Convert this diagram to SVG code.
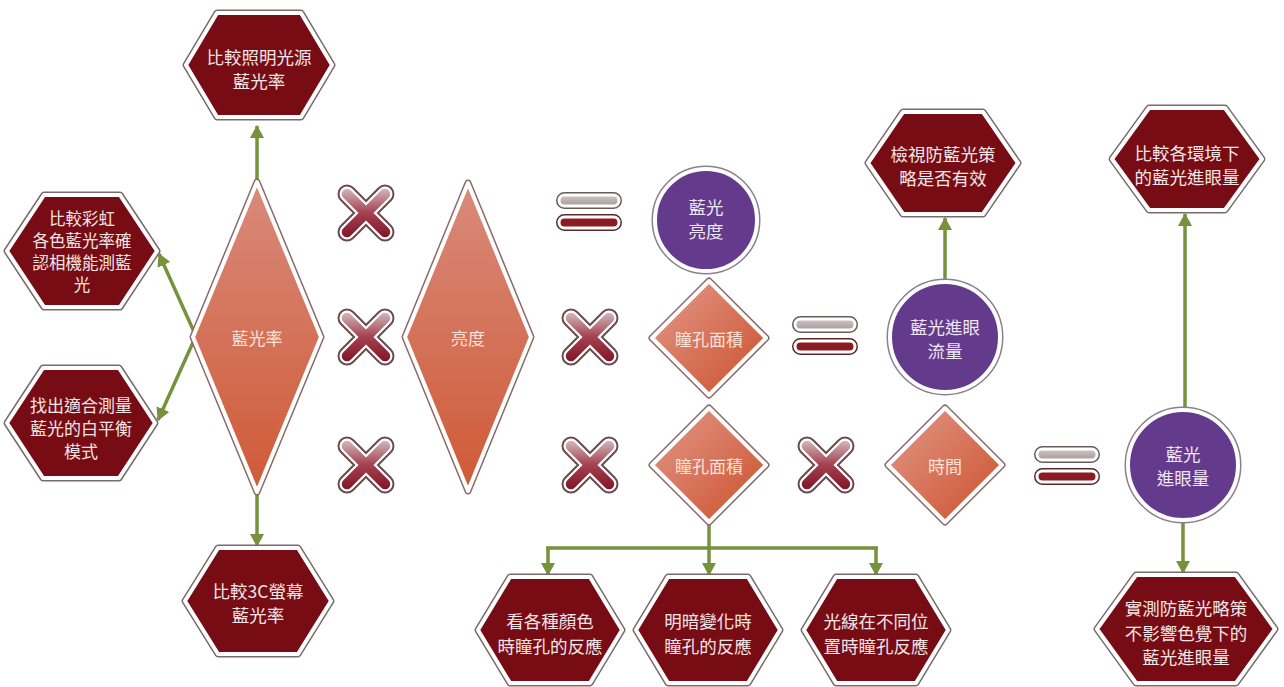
<svg xmlns="http://www.w3.org/2000/svg" xmlns:xlink="http://www.w3.org/1999/xlink" width="1284" height="687" viewBox="0 0 1284 687">
<defs>
<style>
.hexo{fill:none;stroke:#7a6a6a;stroke-width:7;stroke-linejoin:round}
.hexi{fill:#780c14;stroke:#ffffff;stroke-width:4;stroke-linejoin:round}
.dmo{fill:none;stroke:#8a6a66;stroke-width:7;stroke-linejoin:round}
.dmi{stroke:#ffffff;stroke-width:4;stroke-linejoin:round}
.cio{fill:none;stroke:#8a8090;stroke-width:7}
.cii{fill:#643a8c;stroke:#ffffff;stroke-width:4}
.t{font-family:"Noto Sans CJK TC","Noto Sans CJK SC",sans-serif;font-size:17.5px;text-anchor:middle;dominant-baseline:central}
.th{fill:#f3e6e6}
.td{fill:#fbe2d8;font-size:17px}
.tc{fill:#efe6f6}
.con{fill:none;stroke:#76923c;stroke-width:3.5}
.arr{marker-end:url(#ah)}
</style>
<linearGradient id="gBig" x1="0" y1="0" x2="0" y2="1">
<stop offset="0" stop-color="#d98a7c"/>
<stop offset="1" stop-color="#cf5a36"/>
</linearGradient>
<linearGradient id="gSm" x1="0" y1="0" x2="1" y2="1">
<stop offset="0" stop-color="#e2998a"/>
<stop offset="1" stop-color="#cc4f2a"/>
</linearGradient>
<linearGradient id="gX" gradientUnits="userSpaceOnUse" x1="0" y1="-27" x2="0" y2="27">
<stop offset="0" stop-color="#d6c4c4"/>
<stop offset="0.5" stop-color="#a44050"/>
<stop offset="1" stop-color="#7c1222"/>
</linearGradient>
<linearGradient id="gEq" x1="0" y1="0" x2="0" y2="1">
<stop offset="0" stop-color="#d2c6c6"/>
<stop offset="1" stop-color="#a89a9a"/>
</linearGradient>
<marker id="ah" markerUnits="userSpaceOnUse" markerWidth="16" markerHeight="16" refX="12" refY="7" orient="auto">
<path d="M0,0 L13,7 L0,14 z" fill="#76923c"/>
</marker>
<g id="xs">
<path d="M-19,-19 L19,19 M-19,19 L19,-19" stroke="#6a4a4e" stroke-width="19" stroke-linecap="round" fill="none"/>
<path d="M-19,-19 L19,19 M-19,19 L19,-19" stroke="#ffffff" stroke-width="15" stroke-linecap="round" fill="none"/>
<path d="M-19,-19 L19,19 M-19,19 L19,-19" stroke="url(#gX)" stroke-width="10.5" stroke-linecap="round" fill="none"/>
</g>
<g id="eq">
<rect x="-30" y="-17" width="60" height="11" rx="5.5" fill="url(#gEq)" stroke="#6a5a5a" stroke-width="6"/>
<rect x="-30" y="-17" width="60" height="11" rx="5.5" fill="url(#gEq)" stroke="#ffffff" stroke-width="3"/>
<rect x="-30" y="5" width="60" height="11" rx="5.5" fill="#8c1a22" stroke="#5a2a2a" stroke-width="6"/>
<rect x="-30" y="5" width="60" height="11" rx="5.5" fill="#8c1a22" stroke="#ffffff" stroke-width="3"/>
</g>
</defs>
<rect width="1284" height="687" fill="#ffffff"/>

<g id="connectors">
<line class="con arr" x1="257" y1="182" x2="257" y2="126"/>
<line class="con arr" x1="257" y1="493" x2="257" y2="546"/>
<line class="con arr" x1="195" y1="334" x2="159" y2="254"/>
<line class="con arr" x1="195" y1="338" x2="158" y2="420"/>
<line class="con arr" x1="945" y1="282" x2="945" y2="218"/>
<line class="con arr" x1="1185" y1="410" x2="1185" y2="214"/>
<line class="con arr" x1="1183" y1="520" x2="1183" y2="573"/>
<path class="con" d="M709,522 V548 M546,548 H878"/>
<line class="con arr" x1="548" y1="548" x2="548" y2="575"/>
<line class="con arr" x1="709" y1="548" x2="709" y2="575"/>
<line class="con arr" x1="876" y1="548" x2="876" y2="575"/>
</g>

<g id="hex-light-source">
<polygon class="hexo" points="186,65 217,13 301,13 332,65 301,117 217,117"/>
<polygon class="hexi" points="186,65 217,13 301,13 332,65 301,117 217,117"/>
<text class="t th" x="259" y="56">比較照明光源<tspan x="259" dy="24">藍光率</tspan></text>
</g>

<g id="hex-rainbow">
<polygon class="hexo" points="7,251 44,195 120,195 157,251 120,307 44,307"/>
<polygon class="hexi" points="7,251 44,195 120,195 157,251 120,307 44,307"/>
<text class="t th" style="font-size:16.5px" x="82" y="218">比較彩虹<tspan x="82" dy="22">各色藍光率確</tspan><tspan x="82" dy="22">認相機能測藍</tspan><tspan x="82" dy="22">光</tspan></text>
</g>

<g id="hex-white-balance">
<polygon class="hexo" points="7,423 43,368 119,368 155,423 119,478 43,478"/>
<polygon class="hexi" points="7,423 43,368 119,368 155,423 119,478 43,478"/>
<text class="t th" style="font-size:17px" x="81" y="404">找出適合測量<tspan x="81" dy="23">藍光的白平衡</tspan><tspan x="81" dy="23">模式</tspan></text>
</g>

<g id="hex-3c">
<polygon class="hexo" points="185,601 218,548 298,548 331,601 298,654 218,654"/>
<polygon class="hexi" points="185,601 218,548 298,548 331,601 298,654 218,654"/>
<text class="t th" x="258" y="590">比較3C螢幕<tspan x="258" dy="24">藍光率</tspan></text>
</g>

<g id="hex-strategy">
<polygon class="hexo" points="868,163 903,112 983,112 1018,163 983,214 903,214"/>
<polygon class="hexi" points="868,163 903,112 983,112 1018,163 983,214 903,214"/>
<text class="t th" x="943" y="153">檢視防藍光策<tspan x="943" dy="24">略是否有效</tspan></text>
</g>

<g id="hex-environment">
<polygon class="hexo" points="1112,159 1149,108 1225,108 1262,159 1225,210 1149,210"/>
<polygon class="hexi" points="1112,159 1149,108 1225,108 1262,159 1225,210 1149,210"/>
<text class="t th" x="1187" y="152">比較各環境下<tspan x="1187" dy="24">的藍光進眼量</tspan></text>
</g>

<g id="hex-measure">
<polygon class="hexo" points="1097,629 1136,575 1236,575 1275,629 1236,683 1136,683"/>
<polygon class="hexi" points="1097,629 1136,575 1236,575 1275,629 1236,683 1136,683"/>
<text class="t th" x="1186" y="607">實測防藍光略策<tspan x="1186" dy="24.5">不影響色覺下的</tspan><tspan x="1186" dy="24.5">藍光進眼量</tspan></text>
</g>

<g id="hex-colors">
<polygon class="hexo" points="478,630 510,577 590,577 622,630 590,683 510,683"/>
<polygon class="hexi" points="478,630 510,577 590,577 622,630 590,683 510,683"/>
<text class="t th" x="550" y="620">看各種顏色<tspan x="550" dy="25">時瞳孔的反應</tspan></text>
</g>

<g id="hex-brightness-change">
<polygon class="hexo" points="636,630 668,577 748,577 780,630 748,683 668,683"/>
<polygon class="hexi" points="636,630 668,577 748,577 780,630 748,683 668,683"/>
<text class="t th" x="708" y="620">明暗變化時<tspan x="708" dy="25">瞳孔的反應</tspan></text>
</g>

<g id="hex-position">
<polygon class="hexo" points="804,630 836,577 916,577 948,630 916,683 836,683"/>
<polygon class="hexi" points="804,630 836,577 916,577 948,630 916,683 836,683"/>
<text class="t th" x="876" y="620">光線在不同位<tspan x="876" dy="25">置時瞳孔反應</tspan></text>
</g>

<g id="dm-bluerate">
<polygon class="dmo" points="257,182 321,337 257,492 193,337"/>
<polygon class="dmi" fill="url(#gBig)" points="257,182 321,337 257,492 193,337"/>
<text class="t td" x="257" y="337">藍光率</text>
</g>

<g id="dm-luminance">
<polygon class="dmo" points="468,183 531,337 468,491 405,337"/>
<polygon class="dmi" fill="url(#gBig)" points="468,183 531,337 468,491 405,337"/>
<text class="t td" x="468" y="337">亮度</text>
</g>

<g id="dm-pupil-1">
<polygon class="dmo" points="709,281 766,338 709,395 652,338"/>
<polygon class="dmi" fill="url(#gSm)" points="709,281 766,338 709,395 652,338"/>
<text class="t td" x="709" y="338">瞳孔面積</text>
</g>

<g id="dm-pupil-2">
<polygon class="dmo" points="709,408 766,465 709,522 652,465"/>
<polygon class="dmi" fill="url(#gSm)" points="709,408 766,465 709,522 652,465"/>
<text class="t td" x="709" y="465">瞳孔面積</text>
</g>

<g id="dm-time">
<polygon class="dmo" points="945,408 1002,465 945,522 888,465"/>
<polygon class="dmi" fill="url(#gSm)" points="945,408 1002,465 945,522 888,465"/>
<text class="t td" x="945" y="465">時間</text>
</g>

<g id="ci-blue-luminance">
<circle class="cio" cx="706" cy="220" r="51"/>
<circle class="cii" cx="706" cy="220" r="51"/>
<text class="t tc" x="706" y="206">藍光<tspan x="706" dy="24">亮度</tspan></text>
</g>

<g id="ci-blue-flux">
<circle class="cio" cx="945" cy="337" r="55"/>
<circle class="cii" cx="945" cy="337" r="55"/>
<text class="t tc" x="945" y="326">藍光進眼<tspan x="945" dy="24">流量</tspan></text>
</g>

<g id="ci-blue-dose">
<circle class="cio" cx="1183" cy="465" r="55"/>
<circle class="cii" cx="1183" cy="465" r="55"/>
<text class="t tc" x="1183" y="453">藍光<tspan x="1183" dy="24">進眼量</tspan></text>
</g>

<g id="op-x1"><use xlink:href="#xs" x="366" y="213"/></g>
<g id="op-x2"><use xlink:href="#xs" x="366" y="337"/></g>
<g id="op-x3"><use xlink:href="#xs" x="590" y="337"/></g>
<g id="op-x4"><use xlink:href="#xs" x="366" y="465"/></g>
<g id="op-x5"><use xlink:href="#xs" x="590" y="465"/></g>
<g id="op-x6"><use xlink:href="#xs" x="826" y="465"/></g>
<g id="op-eq1"><use xlink:href="#eq" x="589" y="212"/></g>
<g id="op-eq2"><use xlink:href="#eq" x="825" y="336"/></g>
<g id="op-eq3"><use xlink:href="#eq" x="1067" y="466"/></g>
</svg>
